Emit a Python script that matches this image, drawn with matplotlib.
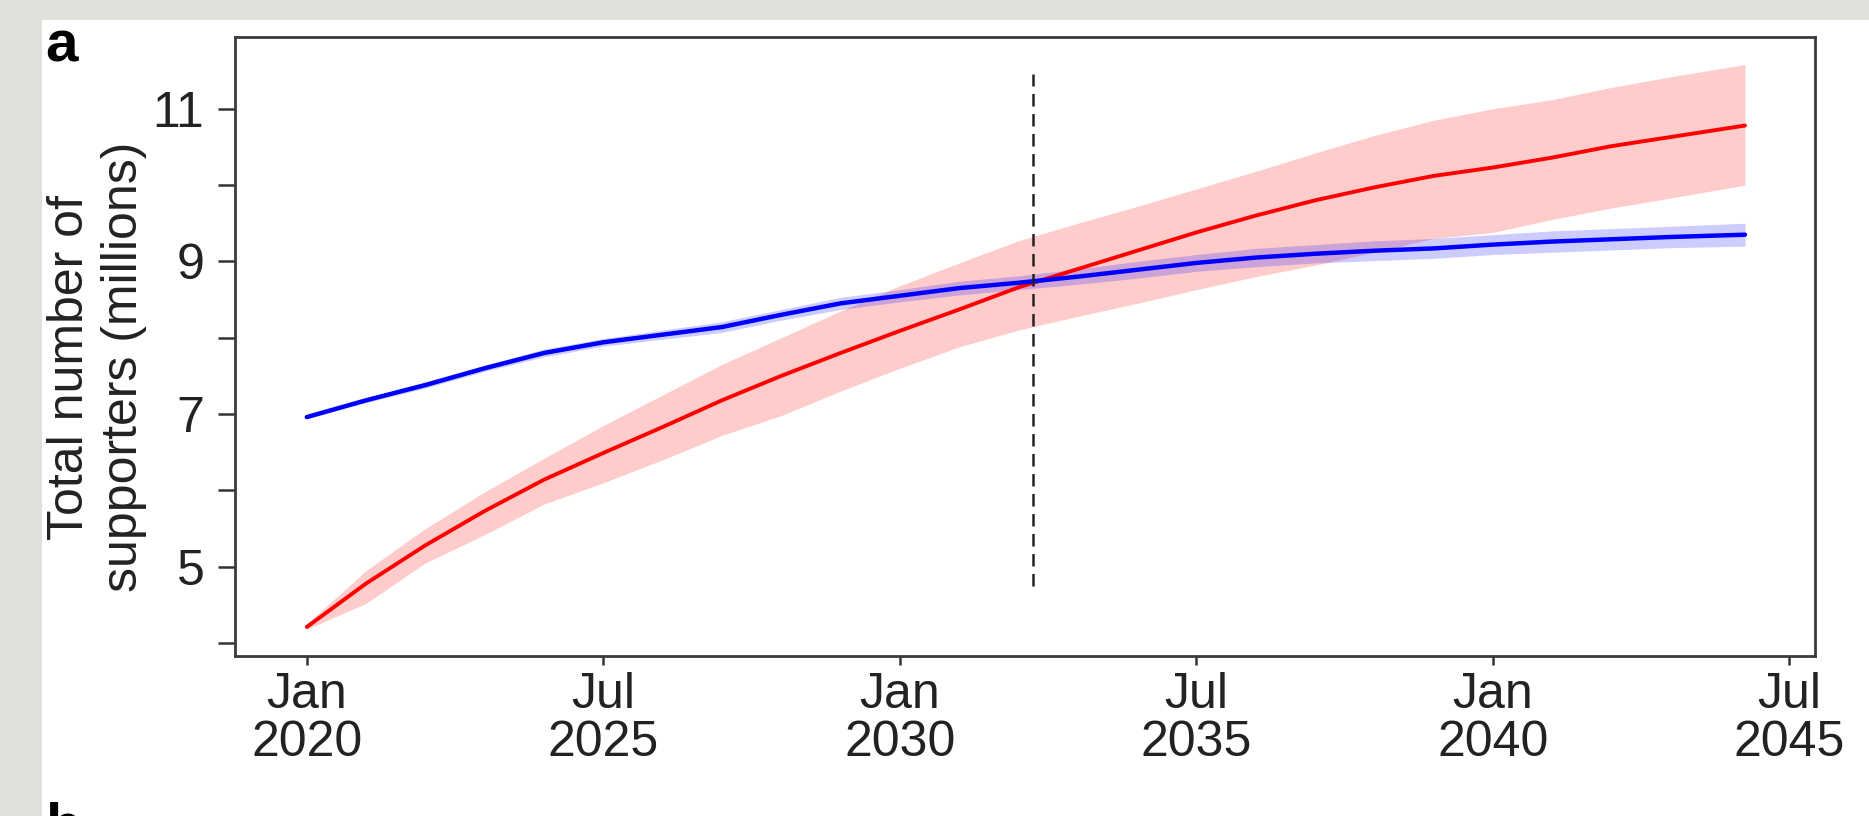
import numpy as np
import matplotlib.pyplot as plt
from matplotlib.patches import Rectangle

plt.rcParams['font.family'] = ['Liberation Sans', 'DejaVu Sans']

# Projection data (decimal years, millions of supporters)
years = [2020, 2021, 2022, 2023, 2024, 2025, 2026, 2027, 2028, 2029, 2030, 2031,
         2032, 2033, 2034, 2035, 2036, 2037, 2038, 2039, 2040, 2041, 2042, 2043, 2044.25]

red_mid = [4.21, 4.78, 5.28, 5.73, 6.14, 6.49, 6.83, 7.18, 7.50, 7.80, 8.09, 8.37,
           8.66, 8.90, 9.14, 9.38, 9.60, 9.80, 9.97, 10.12, 10.23, 10.36, 10.51, 10.63, 10.78]
red_lo = [4.18, 4.52, 5.05, 5.42, 5.82, 6.10, 6.40, 6.72, 6.98, 7.30, 7.60, 7.88,
          8.10, 8.28, 8.45, 8.63, 8.80, 8.95, 9.12, 9.30, 9.38, 9.55, 9.70, 9.83, 10.00]
red_hi = [4.25, 4.95, 5.50, 5.98, 6.42, 6.85, 7.25, 7.65, 8.00, 8.35, 8.68, 8.98,
          9.27, 9.50, 9.72, 9.95, 10.18, 10.42, 10.65, 10.85, 11.00, 11.12, 11.28, 11.42, 11.58]

blue_mid = [6.96, 7.18, 7.38, 7.60, 7.80, 7.94, 8.04, 8.14, 8.30, 8.45, 8.55, 8.65,
            8.72, 8.80, 8.89, 8.98, 9.05, 9.10, 9.14, 9.17, 9.22, 9.26, 9.29, 9.32, 9.35]
blue_lo = [6.94, 7.15, 7.34, 7.56, 7.75, 7.89, 7.98, 8.07, 8.23, 8.37, 8.47, 8.56,
           8.63, 8.70, 8.78, 8.87, 8.93, 8.98, 9.01, 9.04, 9.09, 9.12, 9.15, 9.18, 9.20]
blue_hi = [6.98, 7.21, 7.42, 7.64, 7.85, 7.99, 8.10, 8.21, 8.37, 8.53, 8.63, 8.74,
           8.81, 8.90, 9.00, 9.09, 9.17, 9.22, 9.27, 9.30, 9.35, 9.40, 9.43, 9.46, 9.50]

crossover_year = 2032.25
crossover_span = (4.75, 11.45)

xtick_pos = [2020, 2025, 2030, 2035, 2040, 2045]
xtick_labels = ['Jan\n2020', 'Jul\n2025', 'Jan\n2030', 'Jul\n2035', 'Jan\n2040', 'Jul\n2045']
ytick_major = [5, 7, 9, 11]
ytick_minor = [4, 6, 8, 10]

W, H = 1869, 816
fig = plt.figure(figsize=(W / 100, H / 100), dpi=100, facecolor='#e1e0db')

# white page area behind the panel
fig.patches.append(Rectangle((42 / W, 0), 1 - 42 / W, (H - 20) / H,
                             transform=fig.transFigure, facecolor='white',
                             edgecolor='none', zorder=-10))

ax = fig.add_axes([235 / W, (H - 656) / H, 1580 / W, 619 / H])
ax.set_facecolor('white')

ax.fill_between(years, red_lo, red_hi, color='red', alpha=0.2, linewidth=0)
ax.fill_between(years, blue_lo, blue_hi, color='blue', alpha=0.2, linewidth=0)
ax.plot(years, red_mid, color='#ff0000', linewidth=2.8, solid_capstyle='round',
        solid_joinstyle='round')
ax.plot(years, blue_mid, color='#0000ff', linewidth=3.2, solid_capstyle='round',
        solid_joinstyle='round')
ax.vlines(crossover_year, *crossover_span, colors='#222222', linewidth=1.8,
          linestyles=(0, (5, 3)))

ax.set_xlim(2018.79, 2045.43)
ax.set_ylim(3.83, 11.94)

ax.set_xticks(xtick_pos)
ax.set_xticklabels(xtick_labels, fontsize=36, color='#222222', linespacing=1.05)
ax.set_yticks(ytick_major + ytick_minor)
ax.set_yticklabels([str(v) for v in ytick_major] + [''] * len(ytick_minor),
                   fontsize=36, color='#222222')

ax.tick_params(axis='y', direction='out', length=12, width=1.8, color='#333333', pad=10)
ax.tick_params(axis='x', direction='out', length=6.5, width=1.8, color='#333333', pad=5)

for side in ['left', 'right', 'top', 'bottom']:
    ax.spines[side].set_linewidth(2.0)
    ax.spines[side].set_color('#3a3a3a')

fig.text(97 / W, (H - 367) / H, 'Total number of\nsupporters (millions)',
         rotation=90, ha='center', va='center', multialignment='center',
         fontsize=36, color='#222222', linespacing=1.2)

# panel letters
fig.text(45 / W, (H - 20) / H, 'a', fontsize=42, fontweight='bold',
         ha='left', va='top', color='black')
fig.text(45 / W, (H - 801) / H, 'b', fontsize=42, fontweight='bold',
         ha='left', va='top', color='black')

fig.savefig('out.png', dpi=100, facecolor=fig.get_facecolor())
